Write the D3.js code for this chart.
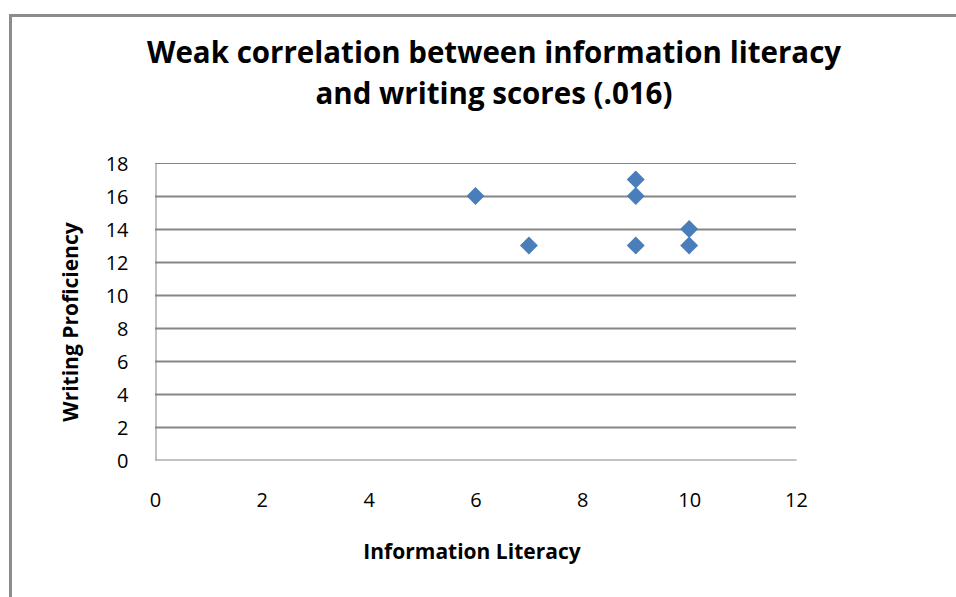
<!DOCTYPE html>
<html>
<head>
<meta charset="utf-8">
<script src="https://cdn.jsdelivr.net/npm/d3@7"></script>
<style>
  body { margin: 0; background: #fff; }
  svg { display: block; font-family: "Open Sans", "Liberation Sans", sans-serif; }
</style>
</head>
<body>
<div id="chart"></div>
<script>
var literacy = [6, 7, 9, 9, 9, 10, 10];
var writing = [16, 13, 17, 16, 13, 14, 13];
var xTicks = [0, 2, 4, 6, 8, 10, 12];
var yTicks = [0, 2, 4, 6, 8, 10, 12, 14, 16, 18];
var titleLines = ["Weak correlation between information literacy", "and writing scores (.016)"];

var width = 956, height = 597;
var plot = {left: 155, top: 163, right: 796, bottom: 460};

var svg = d3.select("#chart").append("svg")
	.attr("width", width)
	.attr("height", height);

// outer chart frame, runs off the right and bottom edges
svg.append("path")
	.attr("d", "M10.5,600 V15.5 H960")
	.attr("fill", "none")
	.attr("stroke", "#8c8c8c")
	.attr("stroke-width", 3);

var x = d3.scaleLinear().domain([0, 12]).range([plot.left, plot.right]);
var y = d3.scaleLinear().domain([0, 18]).range([plot.bottom, plot.top]);

// horizontal gridlines
svg.append("g")
	.selectAll("line")
	.data(yTicks.filter(function(d) { return d > 0; }))
	.join("line")
	.attr("x1", plot.left)
	.attr("x2", plot.right)
	.attr("y1", function(d) { return Math.round(y(d)) + 0.5; })
	.attr("y2", function(d) { return Math.round(y(d)) + 0.5; })
	.attr("stroke", "#868686")
	.attr("stroke-width", function(d) { return d === 18 ? 1 : 2; });

// axes
var yAxis = svg.append("g")
	.attr("transform", "translate(" + (plot.left + 0.5) + ",0)")
	.call(d3.axisLeft(y).tickValues(yTicks).tickSize(0).tickPadding(27));
var xAxis = svg.append("g")
	.attr("transform", "translate(0," + (plot.bottom - 0.5) + ")")
	.call(d3.axisBottom(x).tickValues(xTicks).tickSize(0).tickPadding(40));

[xAxis, yAxis].forEach(function(ax) {
	ax.select(".domain").attr("stroke", "#868686").attr("stroke-width", 1);
	ax.selectAll("text")
		.attr("font-size", 20)
		.attr("font-family", "'Open Sans', sans-serif")
		.attr("fill", "#000");
});
yAxis.selectAll("text").attr("dy", "0.36em");
xAxis.selectAll("text").attr("dy", "0.36em");

// points
var diamond = d3.symbol().type(d3.symbolDiamond2).size(205);
svg.append("g")
	.selectAll("path")
	.data(literacy)
	.join("path")
	.attr("d", diamond)
	.attr("transform", function(d, i) {
		return "translate(" + x(d) + "," + y(writing[i]) + ")";
	})
	.attr("fill", "#4a7ebb");

// title
svg.append("g")
	.selectAll("text")
	.data(titleLines)
	.join("text")
	.attr("x", 494)
	.attr("y", function(d, i) { return 63 + i * 41; })
	.attr("text-anchor", "middle")
	.attr("font-size", 29.5)
	.attr("font-weight", "bold")
	.attr("fill", "#000")
	.text(function(d) { return d; });

// axis titles
svg.append("text")
	.attr("x", 472)
	.attr("y", 559)
	.attr("text-anchor", "middle")
	.attr("font-size", 21)
	.attr("font-weight", "bold")
	.text("Information Literacy");

svg.append("text")
	.attr("transform", "translate(78,322) rotate(-90)")
	.attr("text-anchor", "middle")
	.attr("font-size", 21)
	.attr("font-weight", "bold")
	.text("Writing Proficiency");
</script>
</body>
</html>
